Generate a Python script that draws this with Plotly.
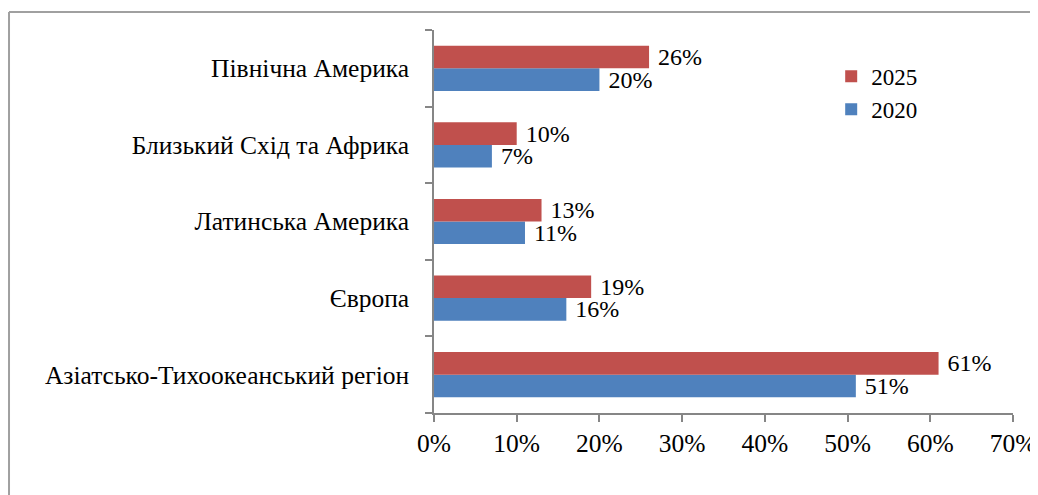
import plotly.graph_objects as go

categories = [
    "Азіатсько-Тихоокеанський регіон",
    "Європа",
    "Латинська Америка",
    "Близький Схід та Африка",
    "Північна Америка",
]
values_2020 = [51, 16, 11, 7, 20]
values_2025 = [61, 19, 13, 10, 26]
x_ticks = [0, 10, 20, 30, 40, 50, 60, 70]
x_tick_labels = ["0%", "10%", "20%", "30%", "40%", "50%", "60%", "70%"]

FONT = "Liberation Serif"
FS = 25.5
LFS = 24
RED = "#C0504D"
BLUE = "#4F81BD"
AXIS = "#868686"

fig = go.Figure()
fig.add_trace(go.Bar(
    y=categories, x=values_2020, name="2020", orientation="h",
    marker=dict(color=BLUE, line=dict(width=0)),
    text=[f"\u00a0{v}%" for v in values_2020], textposition="outside",
    constraintext="none",
    textfont=dict(family=FONT, size=LFS, color="black"), cliponaxis=False,
))
fig.add_trace(go.Bar(
    y=categories, x=values_2025, name="2025", orientation="h",
    marker=dict(color=RED, line=dict(width=0)),
    text=[f"\u00a0{v}%" for v in values_2025], textposition="outside",
    constraintext="none",
    textfont=dict(family=FONT, size=LFS, color="black"), cliponaxis=False,
))

fig.update_layout(
    width=1030, height=487,
    margin=dict(l=426, r=25, t=22, b=82, autoexpand=False),
    paper_bgcolor="white", plot_bgcolor="white",
    barmode="group", bargap=0.41, bargroupgap=0,
    font=dict(family=FONT, size=FS, color="black"),
    showlegend=True,
    legend=dict(
        x=0.686, y=0.935, xanchor="left", yanchor="top",
        traceorder="reversed", bgcolor="rgba(0,0,0,0)",
        font=dict(family=FONT, size=23, color="black"),
        itemwidth=30, tracegroupgap=0,
    ),
    uniformtext=dict(mode=False),
)
fig.update_xaxes(
    range=[0, 70], tickvals=x_ticks, ticktext=x_tick_labels,
    showgrid=False, zeroline=False, automargin=False,
    showline=True, linecolor=AXIS, linewidth=1.5,
    ticks="outside", ticklen=7, tickcolor=AXIS, tickwidth=1.5,
    tickfont=dict(family=FONT, size=FS, color="black"),
)
fig.update_yaxes(
    showgrid=False, zeroline=False, automargin=False,
    showline=True, linecolor=AXIS, linewidth=1.5,
    ticks="outside", ticklen=7, tickcolor=AXIS, tickwidth=1.5,
    tickson="boundaries", ticklabelstandoff=18,
    tickfont=dict(family=FONT, size=FS, color="black"),
)
# outer chart border (left and top edges visible)
fig.add_shape(type="line", xref="paper", yref="paper",
              x0=-0.734, x1=-0.734, y0=-0.3, y1=1.047,
              line=dict(color="#A0A0A0", width=2))
fig.add_shape(type="line", xref="paper", yref="paper",
              x0=-0.734, x1=1.1, y0=1.047, y1=1.047,
              line=dict(color="#A0A0A0", width=2))

fig.write_html("out.html")
